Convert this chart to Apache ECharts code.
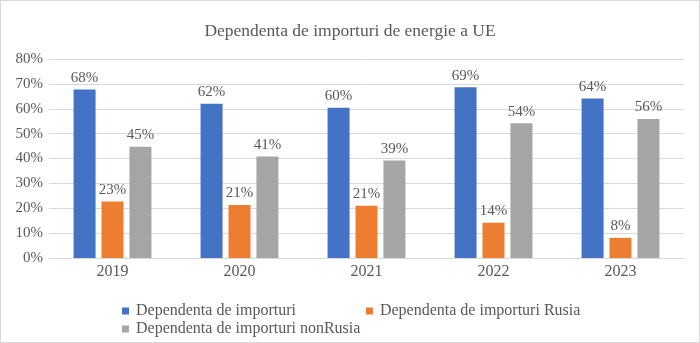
<!DOCTYPE html>
<html>
<head>
<meta charset="utf-8">
<script src="https://cdn.jsdelivr.net/npm/echarts@6/dist/echarts.min.js"></script>
<style>
html,body{margin:0;padding:0;background:#fff;}
#c{width:700px;height:343px;box-sizing:border-box;border:1px solid #d9d9d9;}
</style>
</head>
<body>
<div id="c"></div>
<script>
var title = "Dependenta de importuri de energie a UE";
var categories = ["2019", "2020", "2021", "2022", "2023"];
var seriesNames = ["Dependenta de importuri", "Dependenta de importuri Rusia", "Dependenta de importuri nonRusia"];
var importuri = [67.7, 62.0, 60.4, 68.6, 64.1];
var importuriRusia = [22.7, 21.3, 21.0, 14.2, 8.1];
var importuriNonRusia = [44.7, 40.8, 39.2, 54.2, 55.9];
var colors = ["#4472C4", "#ED7D31", "#A5A5A5"];

var font = "'Liberation Serif', 'Times New Roman', serif";
var textColor = "#595959";
var chart = echarts.init(document.getElementById('c'));
function mk(name, data, color) {
  return {
    name: name, type: 'bar', data: data, barWidth: 22, barGap: '27%',
    itemStyle: {color: color},
    label: {show: true, position: 'top', distance: 4, color: textColor, fontFamily: font, fontSize: 15,
      formatter: function (p) { return Math.round(p.value) + '%'; }}
  };
}
var legendText = {fontFamily: font, fontSize: 16, color: textColor, padding: [0, 0, 0, 2]};
chart.setOption({
  animation: false,
  title: {text: title, left: 'center', top: 16, textStyle: {fontFamily: font, fontSize: 17.5, fontWeight: 'normal', color: textColor}},
  grid: {left: 48, right: 15, top: 58, bottom: 84, containLabel: false},
  legend: [
    {data: [seriesNames[0], seriesNames[1]], left: 116, top: 297, itemWidth: 7, itemHeight: 7, itemGap: 70,
     icon: 'rect', textStyle: legendText},
    {data: [seriesNames[2]], left: 116, top: 315, itemWidth: 7, itemHeight: 7,
     icon: 'rect', textStyle: legendText}
  ],
  xAxis: {type: 'category', data: categories,
    axisLine: {lineStyle: {color: '#d9d9d9'}}, axisTick: {show: false},
    axisLabel: {fontFamily: font, fontSize: 16, color: textColor, margin: 6}},
  yAxis: {type: 'value', min: 0, max: 80, interval: 10,
    axisLabel: {fontFamily: font, fontSize: 15, color: textColor, margin: 6, formatter: '{value}%'},
    splitLine: {lineStyle: {color: '#d9d9d9'}}, axisLine: {show: false}, axisTick: {show: false}},
  series: [mk(seriesNames[0], importuri, colors[0]), mk(seriesNames[1], importuriRusia, colors[1]), mk(seriesNames[2], importuriNonRusia, colors[2])]
});
</script>
</body>
</html>
